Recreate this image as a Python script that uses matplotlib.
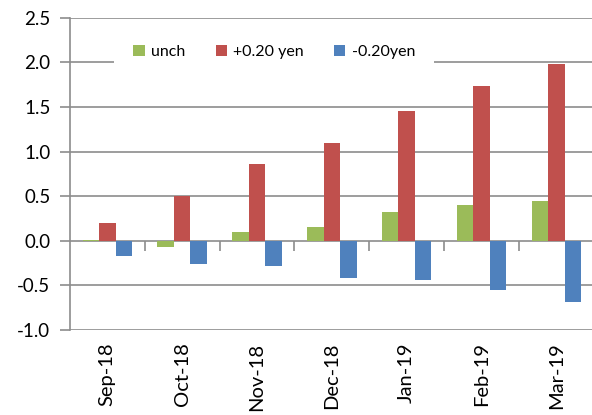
import numpy as np
import matplotlib.pyplot as plt

plt.rcParams['font.family'] = ['Lato', 'DejaVu Sans']

# data
months = ['Sep-18', 'Oct-18', 'Nov-18', 'Dec-18', 'Jan-19', 'Feb-19', 'Mar-19']
unch = [0.01, -0.07, 0.10, 0.15, 0.32, 0.40, 0.45]
plus20 = [0.20, 0.50, 0.86, 1.10, 1.46, 1.74, 1.98]
minus20 = [-0.17, -0.26, -0.28, -0.42, -0.44, -0.55, -0.69]
series = [('unch', unch, '#9BBB59'),
          ('+0.20 yen', plus20, '#C0504D'),
          ('-0.20yen', minus20, '#4F81BD')]
ymin, ymax = -1.0, 2.5

fig = plt.figure(figsize=(5.92, 4.15), dpi=100)
ax = fig.add_axes([0.118, 0.205, 0.885, 0.752])

x = np.arange(len(months))
w = 0.22
for i, (name, vals, col) in enumerate(series):
    ax.bar(x + (i - 1) * w, vals, w, color=col, label=name, zorder=3)

grid_col = '#8c8c8c'
ax.set_xlim(-0.5, len(months) - 0.5)
ax.set_ylim(ymin, ymax)
yt = np.arange(ymin, ymax + 0.01, 0.5)
ax.set_yticks(yt)
ax.set_yticklabels([f'{v:.1f}' for v in yt])
ax.yaxis.grid(True, color=grid_col, linewidth=1.2, zorder=0)
ax.set_axisbelow(True)

for s in ['top', 'right', 'bottom']:
    ax.spines[s].set_visible(False)
ax.spines['left'].set_color(grid_col)
ax.spines['left'].set_linewidth(1.2)
ax.tick_params(axis='y', length=7, width=1.2, color=grid_col, labelsize=13.5, pad=7)

ax.set_xticks(x)
ax.set_xticklabels(months, rotation=90, fontsize=14.5)
ax.tick_params(axis='x', length=0, pad=9)

# category tick marks on the zero line
sec = ax.secondary_xaxis((0 - ymin) / (ymax - ymin))
sec.set_xticks(x[:-1] + 0.5)
sec.set_xticklabels([])
sec.spines['bottom'].set_visible(False)
sec.tick_params(axis='x', length=7, width=1.2, color=grid_col, direction='out')

leg = ax.legend(ncol=3, loc='center', bbox_to_anchor=(0.39, 0.89),
                fontsize=11.5, frameon=True, fancybox=False, framealpha=1,
                edgecolor='none', facecolor='white', handlelength=0.7,
                handleheight=0.7, handletextpad=0.4, columnspacing=1.9,
                borderpad=1.2)

plt.savefig('out.png', dpi=100)
